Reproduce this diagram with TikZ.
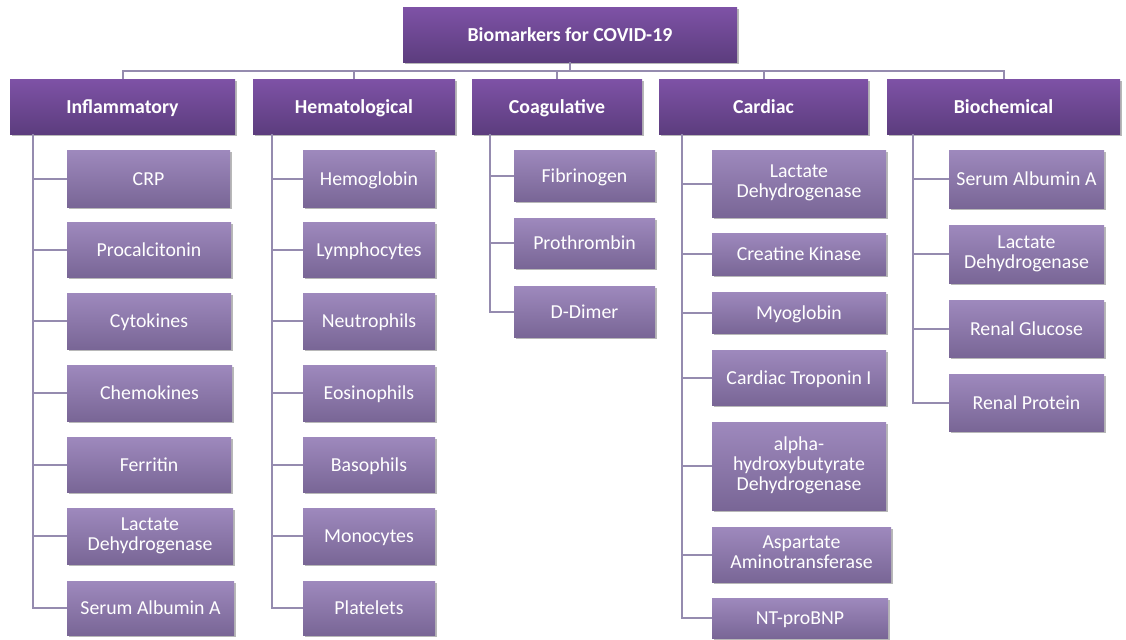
\documentclass[tikz,border=0pt]{standalone}
\usepackage{fontspec}
\setmainfont{Carlito}
\usetikzlibrary{shadows}
\definecolor{catTop}{HTML}{7E52A6}
\definecolor{catBot}{HTML}{5C3D7E}
\definecolor{subTop}{HTML}{9E89BD}
\definecolor{subBot}{HTML}{796696}
\definecolor{connC}{HTML}{958BAF}
\newcommand\bx[7]{%
  \pgfmathsetmacro\bxw{(#4-#2)*0.5}%
  \pgfmathsetmacro\bxh{(#5-#3)*0.5}%
  \node[#6,minimum width=\bxw pt,minimum height=\bxh pt] (#1) at ({(#2+#4)/2},{(#3+#5)/2}) {#7};}
\newcommand\topstrut{\rule{0pt}{9pt}}
\newcommand\botstrut{\rule[-2.2pt]{0pt}{2.2pt}}
\begin{document}
\begin{tikzpicture}[x=0.5pt,y=-0.5pt,
  basebox/.style={rectangle,inner sep=0pt,align=center,text=white,
    font=\fontsize{9.9}{10}\selectfont,
    execute at begin node=\topstrut, execute at end node=\botstrut,
    drop shadow={shadow xshift=0.9pt,shadow yshift=-0.9pt,opacity=0.28,fill=black}},
  catbox/.style={basebox,shading=axis,top color=catTop,bottom color=catBot,
    font=\fontsize{9.9}{10}\selectfont\bfseries},
  subbox/.style={basebox,shading=axis,top color=subTop,bottom color=subBot},
  conn/.style={draw=connC,line width=1pt}]
\useasboundingbox (0,0) rectangle (1126,639);
% top and categories
\bx{top}{403}{7}{737}{62}{catbox}{Biomarkers for COVID-19}
\bx{inf}{10}{79}{235}{134}{catbox}{Inflammatory}
\bx{hem}{253}{79}{455}{134}{catbox}{Hematological}
\bx{coa}{472}{79}{642}{134}{catbox}{Coagulative}
\bx{car}{659}{79}{868}{134}{catbox}{Cardiac}
\bx{bio}{887}{79}{1120}{134}{catbox}{Biochemical}
% inflammatory
\bx{i1}{67}{150}{230}{207}{subbox}{CRP}
\bx{i2}{67}{222}{231}{277}{subbox}{Procalcitonin}
\bx{i3}{67}{293}{231}{349}{subbox}{Cytokines}
\bx{i4}{67}{365}{232}{421}{subbox}{Chemokines}
\bx{i5}{67}{437}{231}{492}{subbox}{Ferritin}
\bx{i6}{67}{508}{233}{564}{subbox}{Lactate\\Dehydrogenase}
\bx{i7}{67}{581}{234}{635}{subbox}{Serum Albumin A}
% hematological
\bx{h1}{303}{150}{435}{207}{subbox}{Hemoglobin}
\bx{h2}{303}{222}{435}{277}{subbox}{Lymphocytes}
\bx{h3}{303}{293}{435}{349}{subbox}{Neutrophils}
\bx{h4}{303}{365}{435}{421}{subbox}{Eosinophils}
\bx{h5}{303}{437}{435}{492}{subbox}{Basophils}
\bx{h6}{303}{508}{435}{564}{subbox}{Monocytes}
\bx{h7}{303}{581}{435}{635}{subbox}{Platelets}
% coagulative
\bx{c1}{514}{150}{655}{201}{subbox}{Fibrinogen}
\bx{c2}{514}{218}{655}{268}{subbox}{Prothrombin}
\bx{c3}{514}{286}{655}{337}{subbox}{D-Dimer}
% cardiac
\bx{k1}{712}{150}{886}{217}{subbox}{Lactate\\Dehydrogenase}
\bx{k2}{712}{233}{886}{275}{subbox}{Creatine Kinase}
\bx{k3}{712}{292}{886}{333}{subbox}{Myoglobin}
\bx{k4}{712}{350}{886}{405}{subbox}{Cardiac Troponin I}
\bx{k5}{712}{422}{886}{510}{subbox}{alpha-\\hydroxybutyrate\\Dehydrogenase}
\bx{k6}{712}{527}{891}{582}{subbox}{Aspartate\\Aminotransferase}
\bx{k7}{712}{598}{888}{638}{subbox}{NT-proBNP}
% biochemical
\bx{b1}{949}{150}{1104}{208}{subbox}{Serum Albumin A}
\bx{b2}{949}{225}{1104}{283}{subbox}{Lactate\\Dehydrogenase}
\bx{b3}{949}{300}{1104}{357}{subbox}{Renal Glucose}
\bx{b4}{949}{374}{1104}{431}{subbox}{Renal Protein}
% top connectors
\foreach \c in {inf,hem,coa,car,bio}
  \draw[conn] (top.south) -- ++(0,9) -| (\c.north);
% child connectors
\foreach \n in {i1,i2,i3,i4,i5,i6,i7}
  \draw[conn] ([xshift=11.5pt]inf.south west) |- (\n.west);
\foreach \n in {h1,h2,h3,h4,h5,h6,h7}
  \draw[conn] ([xshift=9.5pt]hem.south west) |- (\n.west);
\foreach \n in {c1,c2,c3}
  \draw[conn] ([xshift=9pt]coa.south west) |- (\n.west);
\foreach \n in {k1,k2,k3,k4,k5,k6,k7}
  \draw[conn] ([xshift=11.5pt]car.south west) |- (\n.west);
\foreach \n in {b1,b2,b3,b4}
  \draw[conn] ([xshift=13pt]bio.south west) |- (\n.west);
\end{tikzpicture}
\end{document}
